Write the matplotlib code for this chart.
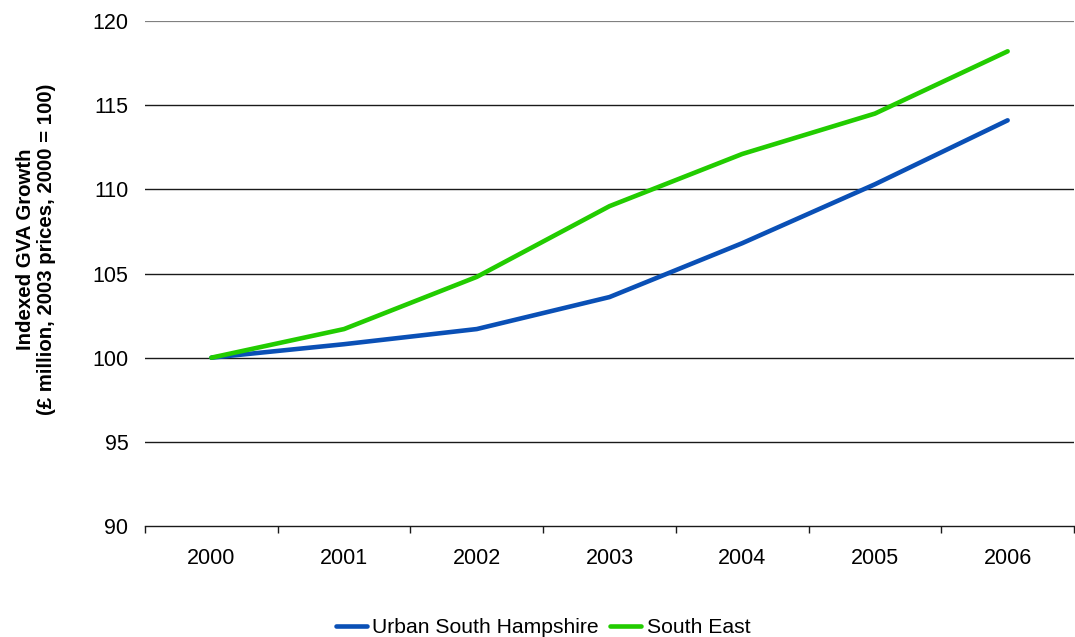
import matplotlib.pyplot as plt
import numpy as np

plt.rcParams['font.family'] = ['Liberation Sans', 'DejaVu Sans']

years = ['2000', '2001', '2002', '2003', '2004', '2005', '2006']
urban_south_hampshire = [100.0, 100.8, 101.7, 103.6, 106.8, 110.3, 114.1]
south_east = [100.0, 101.7, 104.8, 109.0, 112.1, 114.5, 118.2]

blue = '#0a50b6'
green = '#22cc00'

fig = plt.figure(figsize=(10.75, 6.37), dpi=100)
ax = fig.add_axes([145 / 1075, 1 - 526 / 637, 929 / 1075, 505 / 637])

x = np.arange(len(years))
ax.plot(x, urban_south_hampshire, color=blue, lw=3.3, solid_capstyle='round',
        label='Urban South Hampshire', zorder=3)
ax.plot(x, south_east, color=green, lw=3.3, solid_capstyle='round',
        label='South East', zorder=3)

ax.set_xlim(-0.5, len(years) - 0.5)
ax.set_ylim(90, 120)

# horizontal gridlines
ax.set_yticks(np.arange(90, 121, 5))
for v in np.arange(95, 120, 5):
    ax.axhline(v, color='#1a1a1a', lw=1.0, zorder=1)
ax.axhline(120, color='#808080', lw=1.6, zorder=1)

for s in ['left', 'right', 'top']:
    ax.spines[s].set_visible(False)
ax.spines['bottom'].set_color('#1a1a1a')
ax.spines['bottom'].set_linewidth(1.0)

# tick marks between categories, labels at category centres
ax.set_xticks(np.arange(-0.5, len(years), 1.0))
ax.set_xticklabels([])
ax.tick_params(axis='x', which='major', length=5, width=1.0, color='#1a1a1a', direction='out')
ax.set_xticks(x, minor=True)
ax.set_xticklabels(years, minor=True)
ax.tick_params(axis='x', which='minor', length=0, pad=16, labelsize=15.5)
ax.tick_params(axis='y', length=0, pad=12, labelsize=15.5)

fig.text(36 / 1075, 1 - 249 / 637, 'Indexed GVA Growth\n(£ million, 2003 prices, 2000 = 100)',
         rotation=90, ha='center', va='center', ma='center',
         fontsize=14.7, fontweight='bold', linespacing=1.15)

fig.legend(loc='lower center', bbox_to_anchor=(0.505, -0.03), ncol=2, frameon=False,
           fontsize=15.2, handlelength=1.5, handletextpad=0.25, columnspacing=0.5)

plt.savefig('out.png', dpi=100)
